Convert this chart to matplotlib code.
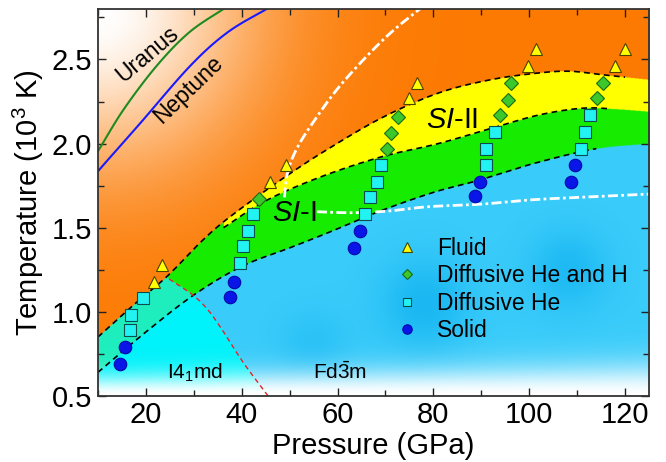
import numpy as np
import matplotlib
matplotlib.use('Agg')
import matplotlib.pyplot as plt
from matplotlib.ticker import MultipleLocator

plt.rcParams['font.family'] = ['Liberation Sans', 'DejaVu Sans']
plt.rcParams['mathtext.fontset'] = 'custom'
plt.rcParams['mathtext.rm'] = 'Liberation Sans'
plt.rcParams['mathtext.it'] = 'Liberation Sans:italic'

# --- simulation points (pressure GPa, temperature 10^3 K) ---
fluid_P = [21.7, 23.3, 45.9, 49.2, 75.0, 76.5, 99.8, 101.4, 117.9, 120.0]
fluid_T = [1.18, 1.28, 1.77, 1.875, 2.27, 2.36, 2.46, 2.56, 2.46, 2.56]

hh_P = [43.6, 70.3, 71.2, 72.6, 94.0, 95.5, 96.1, 114.1, 115.4]
hh_T = [1.67, 1.97, 2.06, 2.16, 2.17, 2.26, 2.36, 2.27, 2.36]

he_P = [16.7, 17.0, 19.5, 39.6, 40.3, 41.4, 42.4, 65.7, 66.8, 68.2, 69.1,
        90.9, 90.9, 92.9, 110.8, 111.7, 112.7]
he_T = [0.89, 0.98, 1.08, 1.29, 1.39, 1.48, 1.58, 1.58, 1.68, 1.77, 1.87,
        1.875, 1.97, 2.07, 1.97, 2.07, 2.17]

solid_P = [14.7, 15.6, 37.6, 38.5, 63.5, 64.7, 88.7, 89.7, 108.7, 109.6]
solid_T = [0.69, 0.79, 1.09, 1.18, 1.38, 1.48, 1.69, 1.77, 1.77, 1.87]

# --- phase boundaries ---
upper_P = [10, 17, 24.4, 31.3, 36, 43, 50, 57, 69, 81, 92, 102, 108.5, 115, 120, 125]
upper_T = [0.85, 1.03, 1.21, 1.41, 1.53, 1.68, 1.82, 1.95, 2.15, 2.30, 2.38, 2.42, 2.43, 2.41, 2.395, 2.38]

mid_P = [36.2, 45, 56.3, 69, 81, 92, 102, 111, 118, 125]
mid_T = [1.50, 1.66, 1.80, 1.92, 2.00, 2.09, 2.17, 2.21, 2.205, 2.19]

lower_P = [10, 20, 30, 40, 50, 58, 69, 80, 88, 95, 102, 114, 125]
lower_T = [0.64, 0.88, 1.10, 1.27, 1.38, 1.47, 1.60, 1.71, 1.77, 1.83, 1.89, 1.97, 2.00]

red_T = [0.5, 0.70, 0.89, 1.01, 1.10, 1.20]
red_P = [45.5, 40.3, 36.0, 33.0, 29.8, 24.6]

melt_P = [78, 70, 61, 55, 51.5, 49.6, 48.9]
melt_T = [2.82, 2.63, 2.36, 2.13, 1.97, 1.83, 1.68]

flat_P = [55.7, 60, 65, 71, 79, 90, 100, 110, 125]
flat_T = [1.595, 1.59, 1.59, 1.60, 1.625, 1.64, 1.665, 1.68, 1.70]

uranus_P = [8, 10, 15.3, 22.2, 29, 36.2, 40]
uranus_T = [1.88, 1.955, 2.20, 2.46, 2.66, 2.80, 2.87]
neptune_P = [8, 10, 18.8, 29.2, 37, 45.2, 50]
neptune_T = [1.76, 1.835, 2.12, 2.46, 2.66, 2.80, 2.88]

xlim = (10, 125)
ylim = (0.5, 2.8)


def smooth(xs, ys, n=16):
    # Catmull-Rom curve through the read points
    p = np.column_stack([xs, ys]).astype(float)
    p = np.vstack([2 * p[0] - p[1], p, 2 * p[-1] - p[-2]])
    t = np.linspace(0, 1, n, endpoint=False)[:, None]
    out = []
    for i in range(1, len(p) - 2):
        p0, p1, p2, p3 = p[i - 1], p[i], p[i + 1], p[i + 2]
        out.append(0.5 * ((2 * p1) + (-p0 + p2) * t + (2 * p0 - 5 * p1 + 4 * p2 - p3) * t ** 2
                          + (-p0 + 3 * p1 - 3 * p2 + p3) * t ** 3))
    out.append(p[-2][None])
    out = np.vstack(out)
    return out[:, 0], out[:, 1]


uPs, uTs = smooth(upper_P, upper_T)
mPs, mTs = smooth(mid_P, mid_T)
lPs, lTs = smooth(lower_P, lower_T)
rPs, rTs = smooth(red_P, red_T)

fig = plt.figure(figsize=(6.66, 4.62), dpi=100)
ax = fig.add_axes([0.147, 0.143, 0.8275, 0.8375])

# background phase map
Pg = np.linspace(xlim[0], xlim[1], 1150)
Tg = np.linspace(ylim[0], ylim[1], 920)
PP, TT = np.meshgrid(Pg, Tg)
up = np.interp(PP, uPs, uTs)
md = np.interp(PP, mPs, mTs)
md = np.where(PP < mid_P[0], up, np.minimum(md, up))
lo = np.interp(PP, lPs, lTs)
left = PP < np.interp(TT, rTs, rPs)

orange = np.array([252, 122, 2]) / 255
yellow = np.array([255, 255, 0]) / 255
green = np.array([22, 236, 0]) / 255
aqua = np.array([30, 238, 190]) / 255
cyan = np.array([0, 242, 250]) / 255
blue = np.array([58, 204, 250]) / 255
dblue = np.array([18, 178, 240]) / 255
white = np.ones(3)

img = np.empty(PP.shape + (3,))
img[:] = orange
img[TT < up] = yellow
img[TT < md] = green
img[(TT < up) & left] = aqua
below = TT < lo
img[below] = blue
img[below & left] = cyan

# darker patches in the Fd-3m region
px = (PP - xlim[0]) * 4.79
py = (TT - ylim[0]) * 168
for cP, cT, s, a in [(78, 1.05, 45, 0.8), (108, 1.25, 40, 0.7), (55, 0.8, 35, 0.4)]:
    g = a * np.exp(-(((px - (cP - 10) * 4.79) / s) ** 2 + ((py - (cT - 0.5) * 168) / s) ** 2))
    m = below & ~left
    img[m] = img[m] * (1 - g[m, None]) + dblue * g[m, None]

# white haze top-left (fluid) and at the bottom (solid)
d = np.hypot(px, (ylim[1] - TT) * 168)
w = np.exp(-(d / 155) ** 2) * (TT >= up)
img = img * (1 - w[..., None]) + white * w[..., None]
s = 0.12 + 0.07 * (PP - 10) / 115
wb = np.exp(-((TT - 0.5) / s) ** 2) * (TT < up)
img = img * (1 - wb[..., None]) + white * wb[..., None]

ax.imshow(img, extent=(xlim[0], xlim[1], ylim[0], ylim[1]), origin='lower',
          aspect='auto', interpolation='bilinear', zorder=0)

# boundaries
dash = (0, (3.5, 2.5))
ax.plot(uPs[uPs <= 120], uTs[uPs <= 120], color='k', lw=1.2, ls=dash, zorder=2)
ax.plot(mPs[mPs <= 117], mTs[mPs <= 117], color='k', lw=1.2, ls=dash, zorder=2)
ax.plot(lPs[lPs <= 114], lTs[lPs <= 114], color='k', lw=1.2, ls=dash, zorder=2)
ax.plot(rPs, rTs, color='#e8202a', lw=1.0, ls=dash, zorder=2)

dd = (0, (3.6, 1.2, 1.0, 1.2))
ax.plot(*smooth(melt_P, melt_T), color='white', lw=2, ls=dd, zorder=2)
ax.plot(*smooth(flat_P, flat_T), color='white', lw=2, ls=dd, zorder=2)

ax.plot(*smooth(uranus_P, uranus_T), color='#1f8a1f', lw=1.5, zorder=2)
ax.plot(*smooth(neptune_P, neptune_T), color='#1a1aff', lw=1.5, zorder=2)

# points
ax.plot(fluid_P, fluid_T, ls='none', marker='^', ms=9, mfc='#ffff00', mec='#4a4200',
        mew=0.8, label='Fluid', zorder=3)
ax.plot(hh_P, hh_T, ls='none', marker='D', ms=7, mfc='#3cc82a', mec='#1c6a14',
        mew=0.8, label='Diffusive He and H', zorder=3)
ax.plot(he_P, he_T, ls='none', marker='s', ms=8, mfc='#22f2f2', mec='#0c4c4c',
        mew=0.8, label='Diffusive He', zorder=3)
ax.plot(solid_P, solid_T, ls='none', marker='o', ms=9, mfc='#0a16e8', mec='#0008a8',
        mew=0.8, label='Solid', zorder=3)

# labels
ax.text(20.4, 2.53, 'Uranus', fontsize=16.5, rotation=40, ha='center', va='center',
        rotation_mode='anchor', zorder=4)
ax.text(28.9, 2.32, 'Neptune', fontsize=16.5, rotation=44, ha='center', va='center',
        rotation_mode='anchor', zorder=4)
ax.text(83.9, 2.14, r'$\mathit{SI}$-II', fontsize=21, ha='center', va='center', zorder=4)
ax.text(51.0, 1.59, r'$\mathit{SI}$-I', fontsize=21, ha='center', va='center', zorder=4)
ax.text(30.2, 0.64, r'I4$_1$md', fontsize=15, ha='center', va='center', zorder=4)
ax.text(60.5, 0.64, r'Fd$\bar{3}$m', fontsize=15, ha='center', va='center', zorder=4)

leg = ax.legend(loc='upper left', bbox_to_anchor=(0.54, 0.412), frameon=False,
                fontsize=16.5, markerscale=0.75, handlelength=1.0, handletextpad=0.8,
                labelspacing=0.2, borderpad=0, borderaxespad=0)

ax.set_xlim(*xlim)
ax.set_ylim(*ylim)
ax.xaxis.set_major_locator(MultipleLocator(20))
ax.xaxis.set_minor_locator(MultipleLocator(10))
ax.yaxis.set_major_locator(MultipleLocator(0.5))
ax.yaxis.set_minor_locator(MultipleLocator(0.25))
ax.yaxis.set_major_formatter(plt.FormatStrFormatter('%.1f'))
ax.tick_params(which='both', direction='in', top=True, right=True, labelsize=21,
               width=1, color='#222222')
ax.tick_params(which='major', length=6, pad=4)
ax.tick_params(which='minor', length=4)
for sp in ax.spines.values():
    sp.set_linewidth(1.3)
    sp.set_color('#333333')
ax.set_xlabel('Pressure (GPa)', fontsize=21, labelpad=2)
ax.set_ylabel(r'Temperature (10$^3$ K)', fontsize=21, labelpad=4)

fig.savefig('out.png', dpi=100)
